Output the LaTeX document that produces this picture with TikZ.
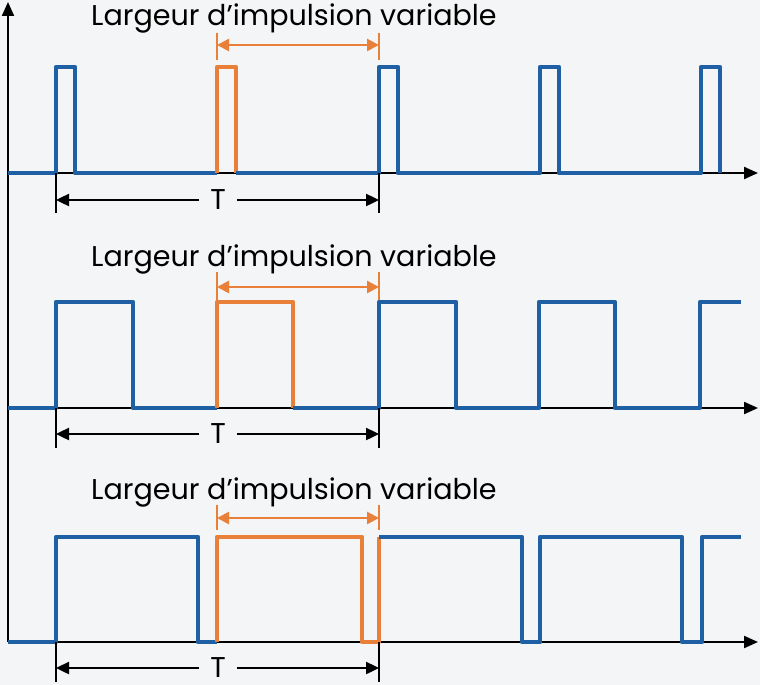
\documentclass[tikz,border=0pt]{standalone}
\usepackage{fontspec}
\setmainfont{Poppins}
\usetikzlibrary{arrows.meta}
\definecolor{sigblue}{HTML}{1F5FA3}
\definecolor{sigorange}{HTML}{E8803A}
\definecolor{bg}{HTML}{F4F5F6}
\begin{document}
\begin{tikzpicture}[x=1pt,y=-1pt,
  axis/.style={line width=2.2pt, black, -{Triangle[length=14pt,width=12pt]}},
  sig/.style={line width=4.6pt, sigblue, line join=round},
  hi/.style={sig, sigorange},
  tickT/.style={line width=1.8pt, black},
  tickO/.style={line width=1.8pt, sigorange},
  dimT/.style={line width=2.4pt, black, -{Triangle[length=13pt,width=12pt]}},
  dimO/.style={line width=2.6pt, sigorange, {Triangle[length=12pt,width=12pt]}-{Triangle[length=12pt,width=12pt]}},
  lbl/.style={font=\fontsize{28.6}{32}\selectfont, inner sep=0pt, anchor=base west},
  tlbl/.style={font=\fontsize{28.6}{32}\selectfont, inner ysep=0pt, inner xsep=11pt}
]
\useasboundingbox (0,0) rectangle (760,685);
\fill[bg] (0,0) rectangle (760,685);

% axes
\coordinate (o1) at (8,173); \coordinate (e1) at (758,173);
\coordinate (o2) at (8,408); \coordinate (e2) at (758,408);
\coordinate (o3) at (8,642); \coordinate (e3) at (758,642);
\coordinate (top) at (8,2);
\draw[axis] (o3) -- (top);
\draw[axis] (o1) -- (e1);
\draw[axis] (o2) -- (e2);
\draw[axis] (o3) -- (e3);

% row 1
\draw[sig] (8,173) -- (56,173) -- (56,67) -- (75,67) -- (75,173) -- (217,173);
\draw[hi] (217,173) -- (217,67) -- (236,67) -- (236,173);
\draw[sig] (236,173) -- (379,173) -- (379,67) -- (398,67) -- (398,173) -- (540,173) -- (540,67) -- (559,67) -- (559,173) -- (701,173) -- (701,67) -- (720,67) -- (720,173);

% row 2
\draw[sig] (8,408) -- (56,408) -- (56,302) -- (133,302) -- (133,408) -- (217,408);
\draw[hi] (217,408) -- (217,302) -- (293,302) -- (293,408);
\draw[sig] (293,408) -- (379,408) -- (379,302) -- (456,302) -- (456,408) -- (539,408) -- (539,302) -- (615,302) -- (615,408) -- (700,408) -- (700,302) -- (741,302);

% row 3
\draw[sig] (8,642) -- (56,642) -- (56,537) -- (198,537) -- (198,642) -- (217,642);
\draw[hi] (217,642) -- (217,537) -- (362,537) -- (362,642) -- (379,642) -- (379,537);
\draw[sig] (379,537) -- (522,537) -- (522,642) -- (540,642) -- (540,537) -- (682,537) -- (682,642) -- (702,642) -- (702,537) -- (741,537);

% labels and dimensions
\foreach \r/\lb/\oy/\ot/\ob/\ty/\tb/\base in {1/173/45/33/60/200/213/26, 2/408/287/272/300/434/448/266, 3/642/518/505/530/668/682/499}{
  \node[lbl] (title\r) at (91,\base) {Largeur d’impulsion variable};
  \coordinate (oa\r) at (217,\ot); \coordinate (ob\r) at (217,\ob);
  \coordinate (oc\r) at (379,\ot); \coordinate (od\r) at (379,\ob);
  \draw[tickO] (oa\r) -- (ob\r);
  \draw[tickO] (oc\r) -- (od\r);
  \coordinate (ol\r) at (217,\oy); \coordinate (or\r) at (379,\oy);
  \draw[dimO] (ol\r) -- (or\r);
  \coordinate (ta\r) at (56,\lb); \coordinate (tb\r) at (56,\tb);
  \coordinate (tc\r) at (379,\lb); \coordinate (td\r) at (379,\tb);
  \draw[tickT] (ta\r) -- (tb\r);
  \draw[tickT] (tc\r) -- (td\r);
  \coordinate (tl\r) at (56,\ty); \coordinate (tr\r) at (379,\ty);
  \node[tlbl] (T\r) at (218,\ty) {T};
  \draw[dimT] (T\r.west) -- (tl\r);
  \draw[dimT] (T\r.east) -- (tr\r);
}
\end{tikzpicture}
\end{document}
